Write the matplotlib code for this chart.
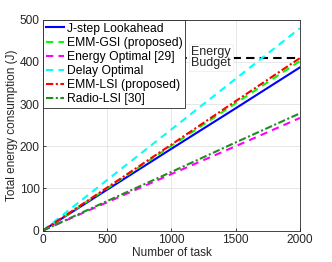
import numpy as np
import matplotlib
matplotlib.use('Agg')
import matplotlib.pyplot as plt

# values
tasks = [0, 500, 1000, 1500, 2000]
jstep = [0, 97, 194, 290, 387]
emm_gsi = [0, 100, 201, 302, 402]
energy_opt = [0, 67, 134, 200, 267]
delay_opt = [0, 120, 240, 360, 480]
emm_lsi = [0, 102, 204, 307, 409]
radio_lsi = [0, 70, 139, 209, 278]
budget = 410

series = [
    ('J-step Lookahead', jstep, '#0000ff', '-'),
    ('EMM-GSI (proposed)', emm_gsi, '#00ff00', (0, (3.5, 2.5))),
    ('Energy Optimal [29]', energy_opt, '#ff00ff', (0, (3.5, 2.5))),
    ('Delay Optimal', delay_opt, '#00ffff', (0, (3.5, 2.5))),
    ('EMM-LSI (proposed)', emm_lsi, '#ff0000', (0, (3.5, 1.2, 1, 1.2))),
    ('Radio-LSI [30]', radio_lsi, '#228b22', (0, (3.5, 1.2, 1, 1.2))),
]

plt.rcParams['font.family'] = 'Liberation Sans'
fig = plt.figure(figsize=(3.32, 2.62), dpi=100)
ax = fig.add_axes([0.1295, 0.1202, 0.7741, 0.8046])

ax.axhline(budget, color='k', ls=(0, (4, 2.5)), lw=1.5, zorder=1)
for name, vals, col, ls in series:
    ax.plot(tasks, vals, color=col, ls=ls, lw=1.5, label=name, zorder=2)

ax.text(1305, budget, 'Energy\nBudget', ha='center', va='center', fontsize=9,
        linespacing=0.9, color='#262626',
        bbox=dict(facecolor='white', edgecolor='#f0f0f0', lw=0.6, pad=1.5), zorder=3)

ax.set_xlim(0, 2000)
ax.set_ylim(0, 500)
ax.set_xticks([0, 500, 1000, 1500, 2000])
ax.set_yticks([0, 100, 200, 300, 400, 500])
ax.grid(True, color='#e3e3e3', lw=0.6)
ax.set_axisbelow(True)
ax.tick_params(direction='in', labelsize=8.6, length=2.5, colors='#262626', width=0.6, pad=2.5)
for s in ax.spines.values():
    s.set_color('#262626')
    s.set_linewidth(0.6)
ax.set_xlabel('Number of task', fontsize=8.5, color='#262626', labelpad=1)
ax.set_ylabel('Total energy consumption (J)', fontsize=8.5, color='#262626', labelpad=1)

leg = ax.legend(loc='upper left', fontsize=8.7, handlelength=1.5, handletextpad=0.2,
                borderaxespad=0, borderpad=0.25, labelspacing=0.17, fancybox=False,
                framealpha=1, edgecolor='#262626')
leg.get_frame().set_linewidth(0.6)
leg.set_zorder(5)

fig.savefig('out.png', dpi=100)
